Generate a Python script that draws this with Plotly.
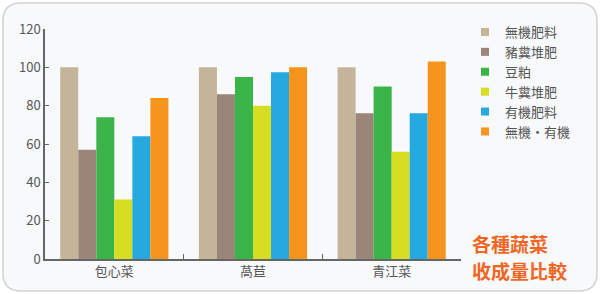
import plotly.graph_objects as go

categories = ["包心菜", "萵苣", "青江菜"]
series_names = ["無機肥料", "豬糞堆肥", "豆粕", "牛糞堆肥", "有機肥料", "無機・有機"]
series_values = [
    [100, 100, 100],
    [57, 86, 76],
    [74, 95, 90],
    [31, 80, 56],
    [64, 97.5, 76],
    [84, 100, 103],
]
series_colors = ["#c3b49a", "#9b8579", "#3bb54a", "#d7de21", "#25a9e0", "#f7941d"]
y_ticks = [0, 20, 40, 60, 80, 100, 120]
title_lines = ["各種蔬菜", "收成量比較"]

W, H = 600, 294
L, R, T, B = 45, 139, 29, 35
pw, ph = W - L - R, H - T - B


def px(x):
    return (x - L) / pw


def py(y):
    return (H - B - y) / ph


fig = go.Figure()
for name, vals, col in zip(series_names, series_values, series_colors):
    fig.add_trace(go.Bar(x=categories, y=vals, name=name, marker=dict(color=col, line=dict(width=0)),
                         showlegend=False))
for name, col in zip(series_names, series_colors):
    fig.add_trace(go.Scatter(x=[None], y=[None], mode="markers", name=name,
                             marker=dict(symbol="square", size=8, color=col)))

# rounded background panel
x0, x1, y0, y1, r = 3, 597, 3, 291, 18
path = (f"M {px(x0 + r)},{py(y0)} L {px(x1 - r)},{py(y0)} Q {px(x1)},{py(y0)} {px(x1)},{py(y0 + r)} "
        f"L {px(x1)},{py(y1 - r)} Q {px(x1)},{py(y1)} {px(x1 - r)},{py(y1)} "
        f"L {px(x0 + r)},{py(y1)} Q {px(x0)},{py(y1)} {px(x0)},{py(y1 - r)} "
        f"L {px(x0)},{py(y0 + r)} Q {px(x0)},{py(y0)} {px(x0 + r)},{py(y0)} Z")
fig.add_shape(type="path", path=path, xref="paper", yref="paper", layer="below",
              fillcolor="#f8f9fb", line=dict(color="#d2d2d2", width=1.5))

for line_text, yc in zip(title_lines, [243, 270]):
    fig.add_annotation(text="<b>" + line_text + "</b>", xref="paper", yref="paper",
                       x=px(471), y=py(yc), xanchor="left", yanchor="middle", align="left",
                       showarrow=False, borderpad=0,
                       font=dict(size=19, color="#f26522", family="Noto Sans CJK TC"))

fig.update_layout(
    width=W, height=H,
    margin=dict(l=L, r=R, t=T, b=B),
    paper_bgcolor="white", plot_bgcolor="rgba(0,0,0,0)",
    barmode="group", bargap=0.22, bargroupgap=0,
    font=dict(family="Noto Sans CJK TC", size=13, color="#555555"),
    legend=dict(x=px(465), y=py(17), xanchor="left", yanchor="top",
                bgcolor="rgba(0,0,0,0)", font=dict(size=13, color="#555555"),
                tracegroupgap=0, itemwidth=30),
    xaxis=dict(showgrid=False, showline=True, linecolor="#666666", linewidth=1.5,
               ticks="inside", tickson="boundaries", ticklen=5, tickcolor="#666666",
               range=[-0.5, 2.5], fixedrange=True),
    yaxis=dict(showgrid=False, showline=True, linecolor="#666666", linewidth=1.5,
               ticks="inside", ticklen=4, tickcolor="#666666", range=[0, 120],
               tickvals=y_ticks, zeroline=False, fixedrange=True),
)

fig.write_html("out.html")
